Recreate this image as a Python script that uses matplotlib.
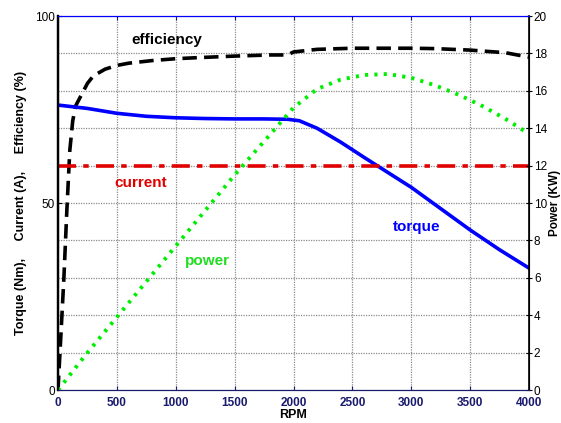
import matplotlib
matplotlib.use('Agg')
import matplotlib.pyplot as plt

plt.rcParams['font.family'] = ['Liberation Sans', 'DejaVu Sans']

# efficiency (%) vs rpm
eff_rpm = [0, 25, 50, 75, 100, 125, 150, 200, 250, 300, 400, 500, 600, 800, 1000,
           1200, 1500, 1800, 1950, 2000, 2200, 2500, 3000, 3200, 3500, 3800, 4000]
eff = [0, 15, 30, 48, 64, 72, 76, 79, 82, 84, 85.8, 86.8, 87.4, 88.1, 88.6,
       88.9, 89.3, 89.6, 89.6, 90.4, 91.1, 91.4, 91.4, 91.3, 90.9, 90.2, 89.0]

# torque (Nm) vs rpm
trq_rpm = [0, 250, 500, 750, 1000, 1250, 1500, 1750, 1950, 2050, 2200, 2400,
           2600, 2800, 3000, 3250, 3500, 3750, 4000]
torque = [76.2, 75.3, 74.0, 73.2, 72.8, 72.6, 72.5, 72.5, 72.4, 72.0, 70.0, 66.3,
          62.2, 58.2, 54.2, 48.5, 42.8, 37.5, 32.6]

# current (A)
cur_rpm = [0, 4000]
current = [60, 60]

# power (kW) vs rpm
pw_rpm = [0, 250, 500, 750, 1000, 1250, 1500, 1750, 2000, 2200, 2400, 2600,
          2800, 3000, 3200, 3400, 3600, 3800, 4000]
power = [0, 2.0, 3.9, 5.8, 7.7, 9.6, 11.5, 13.3, 15.1, 16.1, 16.6, 16.85,
         16.9, 16.7, 16.3, 15.8, 15.2, 14.5, 13.7]

fig = plt.figure(figsize=(5.61, 4.23), dpi=100)
ax = fig.add_axes([0.1034, 0.078, 0.8396, 0.884])
ax2 = ax.twinx()

ax.plot(eff_rpm, eff, color='black', lw=2.6, dashes=(4, 2))
ax.plot(trq_rpm, torque, color='#0000ff', lw=2.6)
ax.plot(cur_rpm, current, color='#e00000', lw=2.6, dashes=(5, 2, 1.5, 2))
ax2.plot(pw_rpm, power, color='#00ee00', lw=2.8, linestyle=(0, (0.8, 1.6)))

ax.set_xlim(0, 4000)
ax.set_ylim(0, 100)
ax2.set_ylim(0, 20)
ax.set_xticks(range(0, 4001, 500))
ax.set_yticks([0, 50, 100])
ax.set_yticks(range(0, 101, 10), minor=True)
ax2.set_yticks(range(0, 21, 2))

ax.grid(which='both', color='#8c8c8c', linestyle=(0, (1, 1)), lw=0.9)
ax.tick_params(which='minor', length=0)
ax.tick_params(axis='x', direction='in', length=3, colors='#1a1a6e',
               labelsize=8.5, pad=5, top=True)
ax.tick_params(axis='y', direction='in', length=3, labelsize=8.5, pad=2)
ax2.tick_params(axis='y', direction='inout', length=5, labelsize=8.5, pad=1)
for lab in ax.get_xticklabels():
    lab.set_fontweight('bold')

ax.spines['top'].set_color('#0000ff')
ax.spines['bottom'].set_color('#1a1a6e')
ax2.spines['top'].set_color('#0000ff')
ax2.spines['bottom'].set_color('#1a1a6e')
ax.spines['left'].set_linewidth(1.6)
ax2.spines['left'].set_linewidth(1.6)
ax2.spines['right'].set_linewidth(1.2)

ax.text(926, 93.6, 'efficiency', color='black', fontsize=11, fontweight='bold',
        ha='center', va='center')
ax.text(705, 55.3, 'current', color='#e00000', fontsize=11, fontweight='bold',
        ha='center', va='center')
ax.text(1265, 34.5, 'power', color='#22dd22', fontsize=11, fontweight='bold',
        ha='center', va='center')
ax.text(3049, 43.5, 'torque', color='#0000ff', fontsize=11, fontweight='bold',
        ha='center', va='center')

ax.set_xlabel('RPM', fontsize=9, fontweight='bold', labelpad=0)
ax.set_ylabel('Torque (Nm),     Current (A),     Efficiency (%)', fontsize=9,
              fontweight='bold', labelpad=6)
ax2.set_ylabel('Power (KW)', fontsize=8.5, fontweight='bold', labelpad=1)

fig.savefig('out.png', dpi=100)
